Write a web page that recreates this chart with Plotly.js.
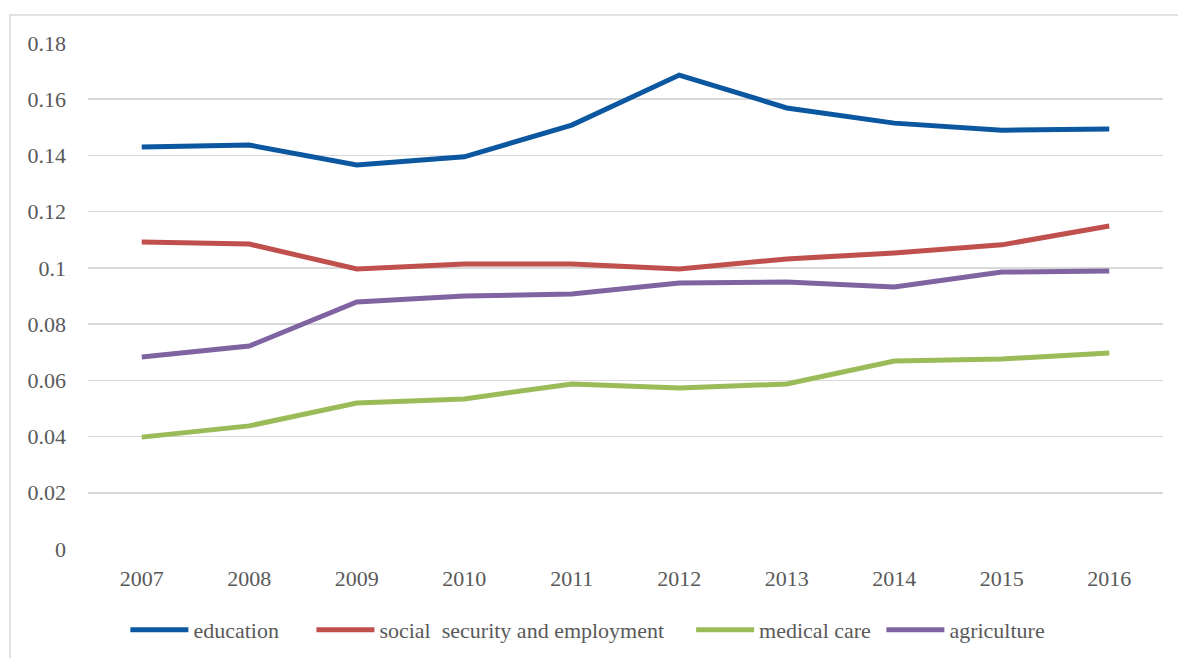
<!DOCTYPE html>
<html>
<head>
<meta charset="utf-8">
<script src="https://cdn.plot.ly/plotly-3.0.1.min.js"></script>
<style>
html,body{margin:0;padding:0;background:#fff;}
#chart{width:1178px;height:658px;}
</style>
</head>
<body>
<div id="chart"></div>
<script>
const years = ["2007","2008","2009","2010","2011","2012","2013","2014","2015","2016"];
const education = [0.1430, 0.1437, 0.1366, 0.1395, 0.1508, 0.1686, 0.1569, 0.1515, 0.1490, 0.1494];
const socialSecurity = [0.1092, 0.1085, 0.0996, 0.1014, 0.1014, 0.0996, 0.1032, 0.1053, 0.1082, 0.1149];
const medicalCare = [0.0398, 0.0438, 0.0519, 0.0534, 0.0587, 0.0573, 0.0587, 0.0669, 0.0676, 0.0697];
const agriculture = [0.0683, 0.0722, 0.0879, 0.0900, 0.0907, 0.0946, 0.0950, 0.0932, 0.0985, 0.0989];
const seriesNames = ["education", "social\u00a0 security and employment", "medical care", "agriculture"];
const legendPad = [5, 4, 1, 0];
const yTicks = [0, 0.02, 0.04, 0.06, 0.08, 0.1, 0.12, 0.14, 0.16, 0.18];
const yTickText = ["0", "0.02", "0.04", "0.06", "0.08", "0.1", "0.12", "0.14", "0.16", "0.18"];

const colors = ["#0B57A0", "#C0504D", "#9BBB59", "#8064A2"];
const values = [education, socialSecurity, medicalCare, agriculture];

const traces = values.map((v, i) => ({
  x: years, y: v, type: "scatter", mode: "lines",
  name: seriesNames[i] + "\u00a0".repeat(legendPad[i]),
  line: {color: colors[i], width: 5}
}));

const font = {family: "Liberation Serif", size: 22, color: "#595959"};

const layout = {
  width: 1178, height: 658,
  margin: {l: 88, r: 15, t: 43, b: 109, autoexpand: false},
  paper_bgcolor: "#fff", plot_bgcolor: "#fff",
  font: font,
  showlegend: true,
  xaxis: {type: "category", range: [-0.5, 9.5], showgrid: false, zeroline: false,
          showline: false, ticks: "", tickfont: font, ticklabelstandoff: 14},
  yaxis: {range: [0, 0.18], tickvals: yTicks, ticktext: yTickText, showgrid: true,
          gridcolor: "#D9D9D9", gridwidth: 1.5, zeroline: false, showline: false,
          ticks: "", tickfont: font, ticklabelstandoff: 21},
  legend: {orientation: "h", x: 0.465, xanchor: "center", y: -0.16, yanchor: "middle",
           font: font, itemwidth: 58, bgcolor: "rgba(0,0,0,0)"},
  shapes: [{type: "rect", xref: "paper", yref: "paper",
            x0: (10 - 88) / 1075, x1: 1.2, y0: -0.5, y1: (549 - 15) / 506,
            line: {color: "#D9D9D9", width: 1.5}, fillcolor: "rgba(0,0,0,0)", layer: "below"}]
};

Plotly.newPlot("chart", traces, layout, {displayModeBar: false, staticPlot: true});
</script>
</body>
</html>
